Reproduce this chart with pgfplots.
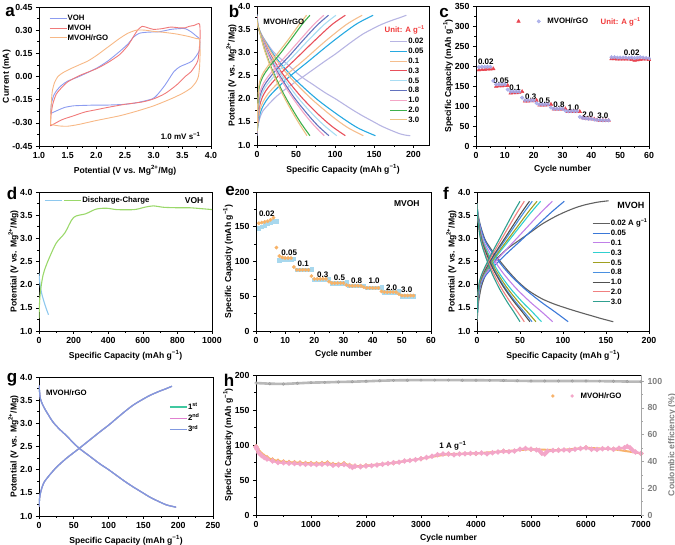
\documentclass[border=0pt]{standalone}
\usepackage{fontspec}
\setmainfont{Liberation Sans}
\usepackage{pgfplots}
\pgfplotsset{compat=1.18}
\definecolor{cvoh}{HTML}{8C9CF0}
\definecolor{cmvoh}{HTML}{F07A7A}
\definecolor{crgo}{HTML}{F7B886}
\definecolor{bA}{HTML}{B7B5E3}
\definecolor{bB}{HTML}{27A9E1}
\definecolor{bC}{HTML}{F5BE8E}
\definecolor{bD}{HTML}{E8505B}
\definecolor{bE}{HTML}{A9DDF3}
\definecolor{bF}{HTML}{6272BE}
\definecolor{bG}{HTML}{F4A6C6}
\definecolor{bH}{HTML}{3DB04B}
\definecolor{bI}{HTML}{EBC283}
\definecolor{fA}{HTML}{606060}
\definecolor{fB}{HTML}{3A78D8}
\definecolor{fC}{HTML}{C080E8}
\definecolor{fD}{HTML}{30D0D0}
\definecolor{fE}{HTML}{A0A020}
\definecolor{fF}{HTML}{4A90E0}
\definecolor{fG}{HTML}{505050}
\definecolor{fH}{HTML}{F08080}
\definecolor{fI}{HTML}{30A090}
\definecolor{cred}{HTML}{E8434F}
\definecolor{clav}{HTML}{A4A9E8}
\definecolor{eora}{HTML}{F7B267}
\definecolor{eblu}{HTML}{A8D8EE}
\definecolor{hpink}{HTML}{F3A6C8}
\definecolor{hora}{HTML}{F7B26A}
\definecolor{dblue}{HTML}{8EC8EE}
\definecolor{dgreen}{HTML}{9AD86A}
\definecolor{gG}{HTML}{40C8A0}
\definecolor{gP}{HTML}{E080D0}
\definecolor{gB}{HTML}{8098E0}
\definecolor{unitred}{HTML}{F03A3A}
\pgfplotsset{
  base/.style={
    scale only axis, width=172pt, height=139pt,
    tick align=outside, xtick pos=left, ytick pos=left,
    minor x tick num=1, minor y tick num=1,
    major tick length=3pt, minor tick length=1.6pt,
    axis line style={line width=0.7pt},
    every tick/.append style={line width=0.6pt, black},
    tick label style={font=\bfseries\fontsize{8.8}{9}\selectfont},
    label style={font=\bfseries\fontsize{8.6}{10}\selectfont},
    ylabel style={yshift=-5pt},
    /pgf/number format/assume math mode=true,
    /pgf/number format/1000 sep={},
    legend cell align=left,
    legend style={draw=none, fill=none, font=\bfseries\fontsize{7.8}{8}\selectfont,
      nodes={inner sep=0.6pt, text height=6pt, text depth=1pt}, row sep=1.6pt},
  },
  linelegend/.style={legend image code/.code={\draw[##1] (0pt,0pt) -- (17pt,0pt);}},
  marklegend/.style={legend image code/.code={\draw[##1] plot coordinates {(3pt,0pt)}; \path[draw=none, fill=none] (0pt,0pt) -- (11pt,0pt);}},
  dec1/.style={yticklabel style={/pgf/number format/.cd, fixed, fixed zerofill, precision=1}},
}
\begin{document}
\begin{tikzpicture}
\path[use as bounding box] (0,0) rectangle (675pt,545pt);
\tikzset{plet/.style={font=\bfseries\fontsize{17}{17}\selectfont, inner sep=0pt}}
\node[plet] at (10pt,533pt) {a};
\node[plet] at (234pt,534pt) {b};
\node[plet] at (444pt,532pt) {c};
\node[plet] at (12pt,352pt) {d};
\node[plet] at (230pt,354pt) {e};
\node[plet] at (446pt,352pt) {f};
\node[plet] at (12pt,165pt) {g};
\node[plet] at (229pt,165pt) {h};

% ---------------- a ----------------
\begin{axis}[base, linelegend, at={(39pt,399pt)}, anchor=south west,
  xmin=1, xmax=4, ymin=-0.45, ymax=0.45,
  xtick={1,1.5,2,2.5,3,3.5,4}, ytick={-0.45,-0.30,-0.15,0,0.15,0.30,0.45},
  xticklabel style={/pgf/number format/.cd, fixed, fixed zerofill, precision=1},
  yticklabel style={/pgf/number format/.cd, fixed, fixed zerofill, precision=2},
  xlabel={Potential (V vs. Mg\textsuperscript{2+}/Mg)}, ylabel={Current (mA)},
  legend style={at={(0.04,0.965)}, anchor=north west}]
\addplot[cvoh, line width=0.9pt, smooth, tension=0.4] coordinates {(1.2,-0.24)(1.22,-0.17)(1.26,-0.12)(1.32,-0.085)(1.4,-0.055)(1.5,-0.03)(1.7,0.0)(2.0,0.053)(2.2,0.1)(2.4,0.16)(2.55,0.21)(2.65,0.255)(2.75,0.28)(2.9,0.287)(3.1,0.29)(3.3,0.305)(3.45,0.31)(3.55,0.31)(3.65,0.29)(3.75,0.26)(3.8,0.24)(3.8,0.17)(3.67,0.1)(3.46,0.064)(3.35,0.03)(3.2,-0.055)(3.06,-0.12)(2.97,-0.146)(2.7,-0.17)(2.5,-0.18)(2.2,-0.185)(2.0,-0.185)(1.8,-0.187)(1.6,-0.19)(1.45,-0.2)(1.35,-0.215)(1.2,-0.24)};
\addlegendentry{VOH}
\addplot[cmvoh, line width=0.9pt, smooth, tension=0.4] coordinates {(1.2,-0.32)(1.21,-0.25)(1.24,-0.18)(1.3,-0.115)(1.4,-0.07)(1.5,-0.035)(1.7,0.005)(2.0,0.05)(2.2,0.09)(2.4,0.14)(2.55,0.2)(2.65,0.26)(2.72,0.3)(2.8,0.325)(2.9,0.315)(3.0,0.305)(3.15,0.31)(3.3,0.32)(3.45,0.315)(3.55,0.315)(3.62,0.325)(3.7,0.33)(3.8,0.34)(3.81,0.25)(3.8,0.2)(3.78,0.12)(3.75,0.085)(3.65,0.03)(3.55,0.0)(3.4,-0.055)(3.2,-0.11)(3.0,-0.145)(2.8,-0.165)(2.5,-0.18)(2.2,-0.2)(2.0,-0.215)(1.8,-0.23)(1.6,-0.255)(1.4,-0.28)(1.2,-0.32)};
\addlegendentry{MVOH}
\addplot[crgo, line width=0.9pt, smooth, tension=0.4] coordinates {(1.2,-0.31)(1.21,-0.2)(1.23,-0.1)(1.27,-0.04)(1.33,0.0)(1.42,0.025)(1.55,0.05)(1.7,0.075)(1.85,0.1)(2.0,0.135)(2.2,0.19)(2.4,0.245)(2.55,0.28)(2.7,0.3)(2.85,0.3)(3.0,0.292)(3.2,0.285)(3.4,0.275)(3.6,0.26)(3.75,0.245)(3.8,0.24)(3.81,0.15)(3.8,0.06)(3.78,0.0)(3.74,-0.035)(3.65,-0.075)(3.5,-0.11)(3.3,-0.145)(3.0,-0.19)(2.7,-0.225)(2.4,-0.255)(2.0,-0.285)(1.7,-0.31)(1.5,-0.322)(1.35,-0.32)(1.2,-0.31)};
\addlegendentry{MVOH/rGO}
\node[anchor=east, font=\bfseries\fontsize{8}{8}\selectfont] at (rel axis cs:0.96,0.075) {1.0 mV s\textsuperscript{−1}};
\end{axis}

% ---------------- b ----------------
\begin{axis}[base, dec1, linelegend, at={(257pt,400pt)}, anchor=south west,
  xmin=0, xmax=220, ymin=1, ymax=4,
  xtick={0,50,100,150,200}, ytick={1,1.5,2,2.5,3,3.5,4},
  xlabel={Specific Capacity (mAh g\textsuperscript{−1})}, ylabel={Potential (V vs. Mg\textsuperscript{2+}/Mg)},
  legend style={at={(0.99,0.79)}, anchor=north east}]
\addplot[bA, line width=1.1pt, smooth] coordinates {(0,1.2)(1,1.4)(3,1.55)(7,1.72)(15,1.88)(25,2.05)(39,2.24)(57,2.45)(72,2.63)(87,2.81)(100,2.96)(111,3.1)(123,3.25)(135,3.39)(147,3.5)(159,3.6)(171,3.68)(183,3.75)(191,3.8)};
\addlegendentry{0.02}
\addplot[bA, line width=1.1pt, smooth, forget plot] coordinates {(0,3.82)(1,3.65)(2,3.53)(5,3.41)(8,3.32)(14,3.17)(20,3.03)(29,2.88)(39,2.74)(48,2.6)(57,2.47)(72,2.3)(87,2.13)(100,2.0)(111,1.88)(123,1.75)(135,1.63)(147,1.52)(159,1.41)(171,1.32)(183,1.24)(191,1.21)(196,1.2)};
\addplot[bB, line width=1.1pt, smooth] coordinates {(0,1.26)(4.5,1.71)(14.9,2.03)(37.1,2.41)(66.8,2.82)(96.5,3.23)(126.2,3.6)(148.5,3.8)};
\addlegendentry{0.05}
\addplot[bB, line width=1.1pt, smooth, forget plot] coordinates {(0,3.79)(1.5,3.56)(7.6,3.32)(22.7,2.92)(45.5,2.47)(75.8,2.0)(106,1.62)(128.8,1.37)(151.5,1.2)};
\addplot[bC, line width=1.1pt, smooth] coordinates {(0,1.26)(4,1.77)(13.5,2.09)(33.6,2.45)(60.5,2.84)(87.4,3.24)(114.3,3.6)(134.5,3.8)};
\addlegendentry{0.1}
\addplot[bC, line width=1.1pt, smooth, forget plot] coordinates {(0,3.78)(1.4,3.56)(6.8,3.34)(20.4,2.94)(40.8,2.49)(68,2.02)(95.2,1.63)(115.6,1.38)(136,1.2)};
\addplot[bD, line width=1.1pt, smooth] coordinates {(0,1.27)(3.4,1.85)(11.3,2.17)(28.3,2.51)(50.9,2.88)(73.5,3.25)(96,3.6)(113,3.8)};
\addlegendentry{0.3}
\addplot[bD, line width=1.1pt, smooth, forget plot] coordinates {(0,3.76)(1.1,3.57)(5.7,3.36)(17,2.96)(33.9,2.51)(56.5,2.04)(79.1,1.65)(96,1.4)(113,1.2)};
\addplot[bE, line width=1.1pt, smooth] coordinates {(0,1.28)(3,1.91)(10.1,2.23)(25.3,2.55)(45.5,2.9)(65.7,3.26)(85.9,3.6)(101,3.8)};
\addlegendentry{0.5}
\addplot[bE, line width=1.1pt, smooth, forget plot] coordinates {(0,3.75)(1,3.58)(5.1,3.38)(15.3,2.98)(30.6,2.53)(51,2.05)(71.4,1.66)(86.7,1.41)(102,1.2)};
\addplot[bF, line width=1.1pt, smooth] coordinates {(0,1.28)(2.7,1.97)(9.2,2.28)(22.9,2.59)(41.2,2.92)(59.5,3.27)(77.8,3.6)(91.5,3.8)};
\addlegendentry{0.8}
\addplot[bF, line width=1.1pt, smooth, forget plot] coordinates {(0,3.74)(0.9,3.58)(4.6,3.39)(13.8,2.99)(27.6,2.54)(46,2.06)(64.4,1.67)(78.2,1.41)(92,1.2)};
\addplot[bG, line width=1.1pt, smooth] coordinates {(0,1.29)(2.6,2.03)(8.6,2.34)(21.4,2.63)(38.5,2.95)(55.6,3.28)(72.7,3.6)(85.5,3.8)};
\addlegendentry{1.0}
\addplot[bG, line width=1.1pt, smooth, forget plot] coordinates {(0,3.73)(0.9,3.59)(4.3,3.4)(12.9,3.0)(25.8,2.55)(43,2.08)(60.2,1.68)(73.1,1.42)(86,1.2)};
\addplot[bH, line width=1.1pt, smooth] coordinates {(0,1.3)(2,2.14)(6.8,2.45)(16.9,2.71)(30.5,2.99)(44,3.29)(57.5,3.6)(67.7,3.8)};
\addlegendentry{2.0}
\addplot[bH, line width=1.1pt, smooth, forget plot] coordinates {(0,3.71)(0.7,3.6)(3.4,3.44)(10.2,3.04)(20.3,2.59)(33.9,2.11)(47.4,1.71)(57.5,1.44)(67.7,1.2)};
\addplot[bI, line width=1.1pt, smooth] coordinates {(0,1.3)(1.9,2.2)(6.3,2.5)(15.9,2.75)(28.5,3.02)(41.2,3.3)(53.9,3.6)(63.4,3.8)};
\addlegendentry{3.0}
\addplot[bI, line width=1.1pt, smooth, forget plot] coordinates {(0,3.7)(0.6,3.6)(3.2,3.45)(9.6,3.05)(19.2,2.6)(32,2.12)(44.8,1.72)(54.4,1.45)(64,1.2)};
\node[anchor=west, font=\bfseries\fontsize{7.8}{8}\selectfont] at (rel axis cs:0.017,0.885) {MVOH/rGO};
\node[anchor=east, text=unitred, font=\bfseries\fontsize{7.8}{8}\selectfont] at (rel axis cs:0.995,0.83) {Unit: A g\textsuperscript{−1}};
\end{axis}

% ---------------- c ----------------
\begin{axis}[base, marklegend, at={(476pt,399pt)}, anchor=south west, width=173pt, height=140pt,
  xmin=0, xmax=60, ymin=0, ymax=350,
  xtick={0,10,...,60}, ytick={0,50,...,350},
  xlabel={Cycle number}, ylabel={Specific Capacity (mAh g\textsuperscript{−1})},
  legend columns=2, legend style={at={(0.21,0.935)}, anchor=north west}]
\addplot[only marks, mark=triangle*, mark size=2.1pt, cred] coordinates {(1,190)(2,191)(3,191)(4,192)(5,192)(6,193)(7,149)(8,150)(9,150)(10,151)(11,151)(12,132)(13,133)(14,133)(15,134)(16,136)(17,112)(18,112)(19,113)(20,113)(21,114)(22,102)(23,102)(24,102)(25,103)(26,104)(27,92)(28,92)(29,92)(30,92)(31,93)(32,86)(33,86)(34,86)(35,86)(36,86)(37,70)(38,69)(39,68)(40,68)(41,67)(42,65)(43,64)(44,64)(45,64)(46,64)(47,218)(48,218)(49,217)(50,217)(51,217)(52,217)(53,217)(54,216)(55,214)(56,215)(57,216)(58,217)(59,217)(60,216)};
\addlegendentry{\hspace*{8pt}}
\addplot[only marks, mark=*, mark size=1.8pt, clav, fill opacity=0.85] coordinates {(1,197)(2,198)(3,198)(4,198)(5,198)(6,163)(7,154)(8,154)(9,154)(10,154)(11,141)(12,136)(13,136)(14,136)(15,136)(16,121)(17,114)(18,114)(19,114)(20,114)(21,107)(22,104)(23,104)(24,104)(25,104)(26,96)(27,93)(28,93)(29,93)(30,93)(31,88)(32,87)(33,87)(34,87)(35,87)(36,73)(37,70)(38,69)(39,68)(40,68)(41,66)(42,65)(43,65)(44,64)(45,64)(46,64)(47,222)(48,222)(49,221)(50,221)(51,221)(52,221)(53,220)(54,221)(55,220)(56,221)(57,222)(58,221)(59,220)(60,219)};
\addlegendentry{MVOH/rGO}
\node[anchor=west, text=unitred, font=\bfseries\fontsize{7.8}{8}\selectfont] at (rel axis cs:0.70,0.885) {Unit: A g\textsuperscript{−1}};
\begin{scope}[every node/.style={font=\bfseries\fontsize{8}{8}\selectfont, inner sep=0pt}]
\node at (axis cs:3.4,210) {0.02};
\node at (axis cs:8.7,164) {0.05};
\node at (axis cs:13.5,146) {0.1};
\node at (axis cs:19,124) {0.3};
\node at (axis cs:23.8,114) {0.5};
\node at (axis cs:28.8,104) {0.8};
\node at (axis cs:33.8,96) {1.0};
\node at (axis cs:38.8,78) {2.0};
\node at (axis cs:44,76) {3.0};
\node at (axis cs:54,234) {0.02};
\end{scope}
\end{axis}

% ---------------- d ----------------
\begin{axis}[base, dec1, linelegend, at={(39pt,214pt)}, anchor=south west, width=173pt,
  xmin=0, xmax=1000, ymin=1, ymax=4,
  xtick={0,200,...,1000}, ytick={1,1.5,2,2.5,3,3.5,4},
  xlabel={Specific Capacity (mAh g\textsuperscript{−1})}, ylabel={Potential (V vs. Mg\textsuperscript{2+}/Mg)},
  legend columns=2, legend style={at={(0.012,0.985)}, anchor=north west}]
\addplot[dblue, line width=1.1pt, smooth] coordinates {(0,2.25)(3,2.1)(8,1.95)(15,1.82)(25,1.68)(35,1.56)(45,1.45)(55,1.35)};
\addlegendentry{}
\addplot[dgreen, line width=1.1pt, smooth] coordinates {(0,1.27)(3,1.6)(8,1.85)(23,2.2)(40,2.4)(62,2.6)(100,2.9)(150,3.12)(200,3.45)(270,3.53)(330,3.63)(390,3.65)(450,3.62)(550,3.62)(610,3.67)(660,3.7)(720,3.67)(800,3.66)(870,3.66)(940,3.64)(1000,3.62)};
\addlegendentry{Discharge-Charge}
\node[anchor=east, font=\bfseries\fontsize{8.5}{8}\selectfont] at (rel axis cs:0.97,0.94) {VOH};
\end{axis}

% ---------------- e ----------------
\begin{axis}[base, at={(256pt,214pt)}, anchor=south west, width=175pt,
  xmin=0, xmax=60, ymin=0, ymax=200,
  xtick={0,10,...,60}, ytick={0,50,...,200},
  xlabel={Cycle number}, ylabel={Specific Capacity (mAh g\textsuperscript{−1})}]
\addplot[only marks, mark=square*, mark size=1.7pt, eblu] coordinates {(1,148)(2,150)(3,152)(4,154)(5,156)(6,158)(7,158)(8,102)(9,103)(10,103)(11,103)(12,103)(13,104)(14,88)(15,88)(16,88)(17,88)(18,88)(19,89)(20,74)(21,74)(22,74)(23,74)(24,74)(25,75)(26,69)(27,69)(28,69)(29,69)(30,69)(31,70)(32,65)(33,65)(34,65)(35,65)(36,65)(37,65)(38,62)(39,62)(40,62)(41,62)(42,62)(43,63)(44,56)(45,56)(46,56)(47,56)(48,56)(49,57)(50,50)(51,50)(52,50)(53,50)(54,50)};
\addplot[only marks, mark=*, mark size=1.7pt, eora] coordinates {(1,155)(2,156)(3,157)(4,158)(5,160)(6,163)(7,120)(8,108)(9,106)(10,105)(11,105)(12,105)(13,92)(14,88)(15,88)(16,88)(17,88)(18,88)(19,79)(20,75)(21,75)(22,75)(23,75)(24,75)(25,71)(26,69)(27,69)(28,69)(29,69)(30,69)(31,66)(32,65)(33,65)(34,65)(35,65)(36,65)(37,63)(38,62)(39,62)(40,62)(41,62)(42,62)(43,57)(44,56)(45,56)(46,56)(47,56)(48,56)(49,53)(50,51)(51,51)(52,51)(53,51)(54,51)};
\node[anchor=east, font=\bfseries\fontsize{8.5}{8}\selectfont] at (rel axis cs:0.955,0.914) {MVOH};
\begin{scope}[every node/.style={font=\bfseries\fontsize{8}{8}\selectfont, inner sep=0pt}]
\node at (axis cs:3.7,168) {0.02};
\node at (axis cs:11.4,113) {0.05};
\node at (axis cs:16.2,97) {0.1};
\node at (axis cs:22.9,81.5) {0.3};
\node at (axis cs:28.6,77) {0.5};
\node at (axis cs:34.5,72.5) {0.8};
\node at (axis cs:40.5,72) {1.0};
\node at (axis cs:46.5,62.5) {2.0};
\node at (axis cs:51.7,60) {3.0};
\end{scope}
\end{axis}

% ---------------- f ----------------
\begin{axis}[base, dec1, linelegend, at={(477pt,214pt)}, anchor=south west,
  xmin=0, xmax=200, ymin=1, ymax=4,
  xtick={0,50,...,200}, ytick={1,1.5,2,2.5,3,3.5,4},
  xlabel={Specific Capacity (mAh g\textsuperscript{−1})}, ylabel={Potential (V vs. Mg\textsuperscript{2+}/Mg)},
  legend style={at={(0.651,0.82)}, anchor=north west}]
\addplot[fA, line width=1.1pt, smooth] coordinates {(0,1.2)(1,1.45)(2,1.65)(5,1.95)(8,2.12)(12,2.3)(18,2.45)(25,2.6)(37,2.8)(50,2.97)(63,3.14)(75,3.3)(88,3.44)(100,3.55)(113,3.65)(125,3.72)(140,3.78)(153,3.81)};
\addlegendentry{0.02 A g\textsuperscript{−1}}
\addplot[fA, line width=1.1pt, smooth, forget plot] coordinates {(0,3.75)(1,3.55)(3,3.35)(6,3.15)(10,2.95)(17,2.75)(25,2.55)(36,2.3)(48,2.06)(60,1.87)(75,1.7)(90,1.58)(106,1.48)(120,1.4)(133,1.33)(146,1.26)(158.5,1.2)};
\addplot[fB, line width=1.1pt, smooth] coordinates {(0,1.25)(3,1.9)(10.2,2.2)(30.5,2.6)(50.8,2.95)(71.1,3.3)(86.3,3.56)(101.5,3.8)};
\addlegendentry{0.05}
\addplot[fB, line width=1.1pt, smooth, forget plot] coordinates {(0,3.75)(2.1,3.4)(10.6,2.9)(31.8,2.35)(53,1.95)(74.2,1.63)(90.1,1.42)(106,1.2)};
\addplot[fC, line width=1.1pt, smooth] coordinates {(0,1.25)(2.6,1.9)(8.8,2.2)(26.3,2.6)(43.8,2.95)(61.3,3.3)(74.5,3.56)(87.6,3.8)};
\addlegendentry{0.1}
\addplot[fC, line width=1.1pt, smooth, forget plot] coordinates {(0,3.75)(1.8,3.4)(8.8,2.9)(26.4,2.35)(44,1.95)(61.6,1.63)(74.8,1.42)(88,1.2)};
\addplot[fD, line width=1.1pt, smooth] coordinates {(0,1.25)(2.2,1.9)(7.4,2.2)(22.2,2.6)(37,2.95)(51.8,3.3)(62.9,3.56)(74,3.8)};
\addlegendentry{0.3}
\addplot[fD, line width=1.1pt, smooth, forget plot] coordinates {(0,3.75)(1.5,3.4)(7.5,2.9)(22.5,2.35)(37.5,1.95)(52.5,1.63)(63.8,1.42)(75,1.2)};
\addplot[fE, line width=1.1pt, smooth] coordinates {(0,1.25)(2.1,1.9)(7,2.2)(20.9,2.6)(34.9,2.95)(48.9,3.3)(59.3,3.56)(69.8,3.8)};
\addlegendentry{0.5}
\addplot[fE, line width=1.1pt, smooth, forget plot] coordinates {(0,3.75)(1.4,3.4)(6.9,2.9)(20.6,2.35)(34.3,1.95)(48,1.63)(58.2,1.42)(68.5,1.2)};
\addplot[fF, line width=1.1pt, smooth] coordinates {(0,1.25)(1.9,1.9)(6.4,2.2)(19.3,2.6)(32.2,2.95)(45,3.3)(54.7,3.56)(64.3,3.8)};
\addlegendentry{0.8}
\addplot[fF, line width=1.1pt, smooth, forget plot] coordinates {(0,3.75)(1.3,3.4)(6.4,2.9)(19.2,2.35)(32,1.95)(44.8,1.63)(54.4,1.42)(64,1.2)};
\addplot[fG, line width=1.1pt, smooth] coordinates {(0,1.25)(1.8,1.9)(6.1,2.2)(18.3,2.6)(30.5,2.95)(42.7,3.3)(51.9,3.56)(61,3.8)};
\addlegendentry{1.0}
\addplot[fG, line width=1.1pt, smooth, forget plot] coordinates {(0,3.75)(1.2,3.4)(6.2,2.9)(18.5,2.35)(30.8,1.95)(43.1,1.63)(52.3,1.42)(61.5,1.2)};
\addplot[fH, line width=1.1pt, smooth] coordinates {(0,1.25)(1.7,1.9)(5.5,2.2)(16.5,2.6)(27.5,2.95)(38.5,3.3)(46.8,3.56)(55,3.8)};
\addlegendentry{2.0}
\addplot[fH, line width=1.1pt, smooth, forget plot] coordinates {(0,3.75)(1.1,3.4)(5.5,2.9)(16.5,2.35)(27.5,1.95)(38.5,1.63)(46.8,1.42)(55,1.2)};
\addplot[fI, line width=1.1pt, smooth] coordinates {(0,1.25)(1.5,1.9)(5,2.2)(15,2.6)(25,2.95)(35,3.3)(42.5,3.56)(50,3.8)};
\addlegendentry{3.0}
\addplot[fI, line width=1.1pt, smooth, forget plot] coordinates {(0,3.75)(1,3.4)(5,2.9)(15,2.35)(25,1.95)(35,1.63)(42.5,1.42)(50,1.2)};
\node[anchor=east, font=\bfseries\fontsize{9}{9}\selectfont] at (rel axis cs:0.994,0.906) {MVOH};
\end{axis}

% ---------------- g ----------------
\begin{axis}[base, dec1, linelegend, at={(39pt,29pt)}, anchor=south west, width=174pt,
  xmin=0, xmax=250, ymin=1, ymax=4,
  xtick={0,50,...,250}, ytick={1,1.5,2,2.5,3,3.5,4},
  xlabel={Specific Capacity (mAh g\textsuperscript{−1})}, ylabel={Potential (V vs. Mg\textsuperscript{2+}/Mg)},
  legend style={at={(0.73,0.83)}, anchor=north west, row sep=3pt}]
\addplot[gG, line width=1.2pt, smooth] coordinates {(0,1.2)(1,1.4)(3,1.55)(7,1.72)(15,1.88)(25,2.05)(39,2.24)(57,2.45)(72,2.63)(87,2.81)(100,2.96)(111,3.1)(123,3.25)(135,3.39)(147,3.5)(159,3.6)(171,3.68)(183,3.75)(191,3.8)};
\addlegendentry{1\textsuperscript{st}}
\addplot[gP, line width=1.2pt, smooth] coordinates {(0,1.2)(1,1.4)(3,1.55)(7,1.72)(15,1.88)(25,2.05)(39,2.24)(57,2.45)(72,2.63)(87,2.81)(100,2.96)(111,3.1)(123,3.25)(135,3.39)(147,3.5)(159,3.6)(171,3.68)(183,3.75)(191,3.8)};
\addlegendentry{2\textsuperscript{nd}}
\addplot[gB, line width=1.2pt, smooth] coordinates {(0,1.2)(1,1.4)(3,1.55)(7,1.72)(15,1.88)(25,2.05)(39,2.24)(57,2.45)(72,2.63)(87,2.81)(100,2.96)(111,3.1)(123,3.25)(135,3.39)(147,3.5)(159,3.6)(171,3.68)(183,3.75)(191,3.8)};
\addlegendentry{3\textsuperscript{rd}}
\addplot[gG, line width=1.2pt, smooth, forget plot] coordinates {(0,3.82)(1,3.65)(2,3.53)(5,3.41)(8,3.32)(14,3.17)(20,3.03)(29,2.88)(39,2.74)(48,2.6)(57,2.47)(72,2.3)(87,2.13)(100,2.0)(111,1.88)(123,1.75)(135,1.63)(147,1.52)(159,1.41)(171,1.32)(183,1.24)(191,1.21)(197,1.19)};
\addplot[gP, line width=1.2pt, smooth, forget plot] coordinates {(0,3.82)(1,3.65)(2,3.53)(5,3.41)(8,3.32)(14,3.17)(20,3.03)(29,2.88)(39,2.74)(48,2.6)(57,2.47)(72,2.3)(87,2.13)(100,2.0)(111,1.88)(123,1.75)(135,1.63)(147,1.52)(159,1.41)(171,1.32)(183,1.24)(191,1.21)(197,1.19)};
\addplot[gB, line width=1.2pt, smooth, forget plot] coordinates {(0,3.82)(1,3.65)(2,3.53)(5,3.41)(8,3.32)(14,3.17)(20,3.03)(29,2.88)(39,2.74)(48,2.6)(57,2.47)(72,2.3)(87,2.13)(100,2.0)(111,1.88)(123,1.75)(135,1.63)(147,1.52)(159,1.41)(171,1.32)(183,1.24)(191,1.21)(197,1.19)};
\node[anchor=west, font=\bfseries\fontsize{7.8}{8}\selectfont] at (rel axis cs:0.02,0.885) {MVOH/rGO};
\end{axis}

% ---------------- h ----------------
\begin{axis}[base, marklegend, at={(256pt,30pt)}, anchor=south west, width=385pt, height=140pt,
  xmin=0, xmax=7000, ymin=0, ymax=200,
  xtick={0,1000,...,7000}, ytick={0,50,...,200},
  xlabel={Cycle number}, ylabel={Specific Capacity (mAh g\textsuperscript{−1})},
  legend columns=2, legend style={at={(0.755,0.895)}, anchor=north west}]
\addplot[hora, line width=2pt, mark=*, mark size=1.2pt, forget plot] coordinates {(0,98)(20,95)(50,91)(100,87)(150,84)(200,82)(300,79)(400,77)(500,76)(600,75.5)(700,75)(800,74.5)(900,74)(1000,74)(1100,73.5)(1200,74)(1300,74.5)(1400,72.5)(1500,72.5)(1600,73.5)(1700,71)(1800,70)(1900,69.5)(2000,70.5)(2500,74.5)(3000,80.5)(3500,87)(4000,88)(4500,91)(5000,94)(5500,92.5)(6000,96)(6500,94)(7000,88)};
\addplot[hpink, line width=2.2pt, mark=*, mark size=1.3pt, forget plot] coordinates {(0,97)(20,94)(50,89)(100,85)(150,82)(200,80)(300,77)(400,75)(500,74.5)(600,74)(700,73.5)(800,73)(900,72.5)(1000,72.5)(1100,72)(1200,72.5)(1300,73)(1400,71)(1500,71.5)(1600,72)(1700,70)(1750,68)(1800,69.5)(1900,69)(2000,70)(2100,70.5)(2200,71.5)(2300,72.5)(2400,73.5)(2500,74.5)(2600,75.5)(2700,77)(2800,78)(2900,79)(3000,80.5)(3100,82)(3200,84)(3300,86)(3400,87)(3500,87)(3600,86)(3700,87)(3800,87.5)(3900,88)(4000,88)(4100,88.5)(4200,87.5)(4300,89)(4400,90)(4500,91)(4600,90.5)(4700,91.5)(4800,94)(4900,95)(5000,94)(5100,93)(5150,92)(5200,88)(5250,87)(5300,91)(5400,92)(5500,92.5)(5600,93)(5700,92.5)(5800,94)(5900,95)(6000,96)(6100,94)(6200,93.5)(6300,94.5)(6400,95)(6500,94)(6600,95.5)(6700,96)(6750,98)(6800,96)(6850,92)(6900,90)(7000,88)};
\addlegendimage{only marks, mark=*, mark size=1.5pt, hora}
\addlegendentry{\hspace*{7pt}}
\addlegendimage{only marks, mark=*, mark size=1.5pt, hpink}
\addlegendentry{MVOH/rGO}
\node[font=\bfseries\fontsize{8}{8}\selectfont] at (axis cs:3580,99) {1 A g\textsuperscript{−1}};
\end{axis}
\begin{axis}[base, at={(256pt,30pt)}, anchor=south west, width=385pt, height=140pt,
  xmin=0, xmax=7000, ymin=0, ymax=104.5, axis x line=none, axis y line*=right,
  ytick pos=right, yticklabel pos=right,
  ytick={0,20,...,100}, minor y tick num=1,
  y axis line style={gray!70}, every tick/.append style={gray!70},
  yticklabel style={text=gray}, ylabel style={text=gray, yshift=6pt},
  ylabel={Coulombic efficiency (\%)}]
\addplot[gray!55, line width=2.6pt, mark=o, mark size=1.3pt, mark options={gray!80, line width=0.4pt}] coordinates {(0,98.5)(250,98)(500,97.8)(750,98.3)(1000,98.8)(1250,99)(1500,99.3)(1750,99.5)(2000,99.8)(2250,100.2)(2500,100.5)(2750,100.6)(3000,100.7)(3250,100.7)(3500,100.7)(3750,100.6)(4000,100.6)(4250,100.5)(4500,100.4)(4750,100.2)(5000,100)(5250,100)(5500,100)(5750,100)(6000,100)(6250,99.9)(6500,99.8)(6750,99.6)(7000,99.5)};
\end{axis}
\end{tikzpicture}
\end{document}
